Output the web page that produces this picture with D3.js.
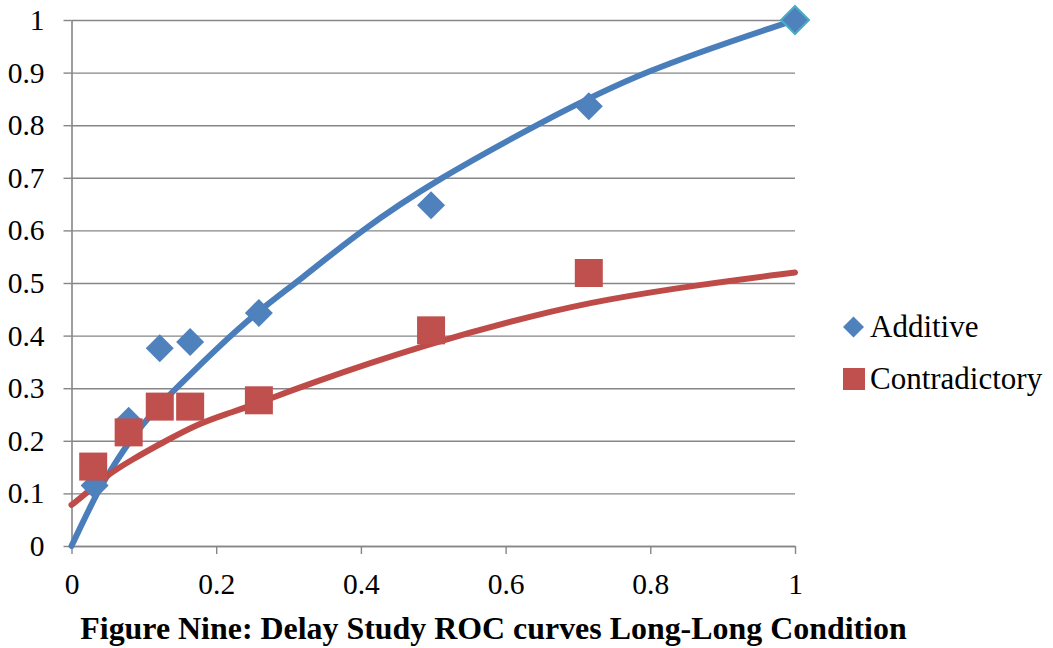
<!DOCTYPE html>
<html>
<head>
<meta charset="utf-8">
<script src="https://cdn.jsdelivr.net/npm/d3@7"></script>
<style>
  html, body { margin: 0; padding: 0; background: #fff; }
  svg { display: block; }
  text { font-family: "Liberation Serif", "Times New Roman", serif; fill: #000; }
</style>
</head>
<body>
<svg id="chart" width="1053" height="648"></svg>
<script>
// ---- data ----
const seriesNames = ["Additive", "Contradictory"];
const additiveX = [0.032, 0.079, 0.122, 0.164, 0.259, 0.497, 0.715, 1.0];
const additiveY = [0.115, 0.238, 0.376, 0.388, 0.443, 0.648, 0.836, 1.0];
const contradictoryX = [0.030, 0.079, 0.122, 0.164, 0.259, 0.497, 0.715];
const contradictoryY = [0.151, 0.216, 0.265, 0.265, 0.277, 0.410, 0.519];
// trend lines
const additiveTrendX = [0, 0.037, 0.06, 0.083, 0.115, 0.145, 0.2, 0.26, 0.316, 0.398, 0.505, 0.647, 0.786, 1.0];
const additiveTrendY = [0, 0.107, 0.157, 0.205, 0.259, 0.300, 0.375, 0.449, 0.506, 0.598, 0.697, 0.804, 0.902, 1.0];
const contradictoryTrendX = [0, 0.018, 0.046, 0.083, 0.129, 0.175, 0.212, 0.26, 0.316, 0.495, 0.647, 0.735, 0.868, 1.0];
const contradictoryTrendY = [0.078, 0.097, 0.132, 0.164, 0.199, 0.232, 0.250, 0.272, 0.303, 0.386, 0.4415, 0.468, 0.497, 0.520];
const xTicks = [0, 0.2, 0.4, 0.6, 0.8, 1];
const yTicks = [0, 0.1, 0.2, 0.3, 0.4, 0.5, 0.6, 0.7, 0.8, 0.9, 1];
const titleText = "Figure Nine: Delay Study ROC curves Long-Long Condition";

// ---- layout ----
const svg = d3.select("#chart");
const mLeft = 71.5, mRight = 795, mTop = 20, mBottom = 546;
const x = d3.scaleLinear().domain([0, 1]).range([mLeft, mRight]);
const y = d3.scaleLinear().domain([0, 1]).range([mBottom, mTop]);
const gridColor = "#868686";
const blue = "#4F81BD", red = "#C0504D";
const fmt = d => String(+d.toFixed(1));
const tickFont = 29.5;

// grid lines
svg.append("g")
  .attr("transform", `translate(${mLeft},0)`)
  .call(d3.axisLeft(y).tickValues(yTicks).tickSize(-(mRight - mLeft)).tickFormat(""))
  .call(g => g.select(".domain").remove())
  .call(g => g.selectAll("line").attr("stroke", gridColor).attr("stroke-width", 1.4));

// y axis with ticks + labels
svg.append("g")
  .attr("transform", `translate(${mLeft},0)`)
  .call(d3.axisLeft(y).tickValues(yTicks).tickSize(8).tickSizeOuter(0).tickPadding(19).tickFormat(fmt))
  .call(g => g.select(".domain").attr("stroke", gridColor).attr("stroke-width", 1.6))
  .call(g => g.selectAll("line").attr("stroke", gridColor).attr("stroke-width", 1.4))
  .call(g => g.selectAll("text").attr("font-size", tickFont).attr("font-family", "Liberation Serif").attr("fill", "#000"));

// x axis
svg.append("g")
  .attr("transform", `translate(0,${mBottom})`)
  .call(d3.axisBottom(x).tickValues(xTicks).tickSize(8).tickSizeOuter(0).tickFormat(fmt))
  .call(g => g.select(".domain").attr("stroke", gridColor).attr("stroke-width", 1.6))
  .call(g => g.selectAll("line").attr("stroke", gridColor).attr("stroke-width", 1.4))
  .call(g => g.selectAll("text").attr("font-size", tickFont).attr("font-family", "Liberation Serif")
      .attr("fill", "#000").attr("y", 48).attr("dy", 0));

// trend lines
const line = d3.line().x(d => x(d[0])).y(d => y(d[1])).curve(d3.curveBasis);
svg.append("path")
  .datum(d3.zip(additiveTrendX, additiveTrendY))
  .attr("d", line).attr("fill", "none").attr("stroke", "#4A7EBB").attr("stroke-width", 6)
  .attr("stroke-linecap", "round");
svg.append("path")
  .datum(d3.zip(contradictoryTrendX, contradictoryTrendY))
  .attr("d", line).attr("fill", "none").attr("stroke", "#BE4B48").attr("stroke-width", 6)
  .attr("stroke-linecap", "round");

// markers
const diamond = s => `M0,${-s}L${s},0L0,${s}L${-s},0Z`;
svg.append("g").selectAll("path")
  .data(d3.zip(additiveX, additiveY))
  .join("path")
  .attr("transform", d => `translate(${x(d[0])},${y(d[1])})`)
  .attr("d", diamond(14))
  .attr("fill", blue)
  .attr("stroke", (d, i) => i === additiveX.length - 1 ? "#4BACC6" : "none")
  .attr("stroke-width", 2);

svg.append("g").selectAll("rect")
  .data(d3.zip(contradictoryX, contradictoryY))
  .join("rect")
  .attr("x", d => x(d[0]) - 14).attr("y", d => y(d[1]) - 14)
  .attr("width", 28).attr("height", 28)
  .attr("fill", red);

// legend
const lg = svg.append("g");
lg.append("path").attr("transform", "translate(853.5,327)").attr("d", diamond(10.5)).attr("fill", blue);
lg.append("text").attr("x", 870).attr("y", 337).attr("font-size", 31).text(seriesNames[0]);
lg.append("rect").attr("x", 843).attr("y", 368).attr("width", 22).attr("height", 22).attr("fill", red);
lg.append("text").attr("x", 870).attr("y", 389).attr("font-size", 31).text(seriesNames[1]);

// title
const t = svg.append("text")
  .attr("x", 493.5).attr("y", 639)
  .attr("text-anchor", "middle")
  .attr("font-weight", "bold")
  .attr("font-size", 27)
  .text(titleText);
const w = t.node().getComputedTextLength();
t.attr("font-size", 27 * 827 / w);
</script>
</body>
</html>
